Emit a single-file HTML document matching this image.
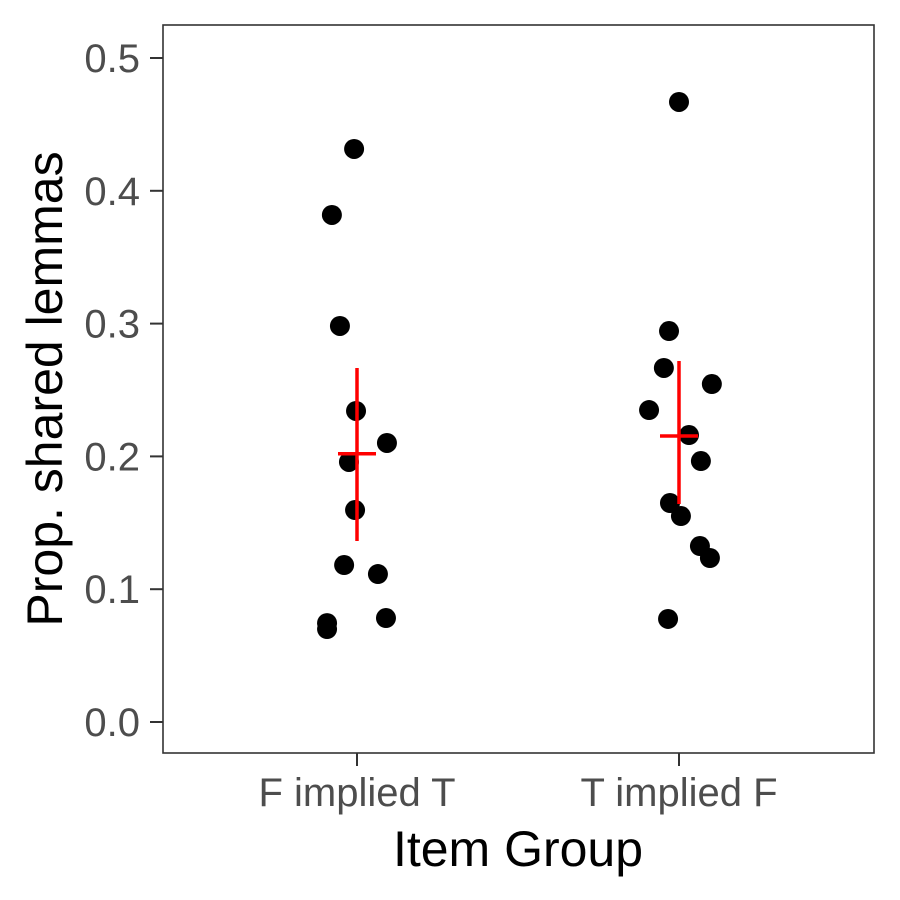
<!DOCTYPE html>
<html><head><meta charset="utf-8"><style>body{margin:0;background:#fff}svg{display:block}</style></head>
<body>
<svg id="chart" width="900" height="900" xmlns="http://www.w3.org/2000/svg" font-family="Liberation Sans, sans-serif"></svg>
<script>
const categories = ["F implied T", "T implied F"];
const group1Values = [0.4315,0.3818,0.2982,0.2342,0.2101,0.1958,0.1596,0.1182,0.1114,0.0783,0.0745,0.0700];
const group1Jitter = [-0.009,-0.078,-0.053,-0.003,0.093,-0.025,-0.006,-0.040,0.065,0.090,-0.093,-0.093];
const group2Values = [0.4669,0.2944,0.2666,0.2545,0.2349,0.2161,0.1965,0.1649,0.1551,0.1325,0.1235,0.0776];
const group2Jitter = [0.0,-0.031,-0.047,0.102,-0.093,0.031,0.068,-0.028,0.006,0.065,0.096,-0.034];
const means = [0.202, 0.2154];
const ciLow = [0.1363, 0.1642];
const ciHigh = [0.2666, 0.2718];
const yTicks = [0.0,0.1,0.2,0.3,0.4,0.5];
const yTickLabels = ["0.0","0.1","0.2","0.3","0.4","0.5"];

const svg = document.getElementById('chart');
const NS = "http://www.w3.org/2000/svg";
const L=163,R=874,T=25,B=753;
const y = v => 722 - v*1328;
const x = c => 357 + c*322;
function mk(tag, attrs, parent){const e=document.createElementNS(NS,tag);for(const k in attrs)e.setAttribute(k,attrs[k]);(parent||svg).appendChild(e);return e;}

const panel = mk('rect',{x:L,y:T,width:R-L,height:B-T,fill:'#fff',stroke:'#333','stroke-width':1.6});



yTicks.forEach((t,i)=>{
  const ln = mk('line',{x1:L-13,x2:L,y1:y(t),y2:y(t),stroke:'#333','stroke-width':2});
  
  
  const tx = mk('text',{x:140,y:y(t)+14,'text-anchor':'end','font-size':40,fill:'#4d4d4d'});
  tx.textContent = yTickLabels[i];
  
  
});
categories.forEach((c,i)=>{
  const ln = mk('line',{x1:x(i),x2:x(i),y1:B,y2:B+13,stroke:'#333','stroke-width':2});
  
  
  const tx = mk('text',{x:x(i),y:806,'text-anchor':'middle','font-size':40,fill:'#4d4d4d'});
  tx.textContent = c;
  
  
});

const xt = mk('text',{x:518,y:866,'text-anchor':'middle','font-size':50,fill:'#000'});
xt.textContent = 'Item Group';


const yt = mk('text',{x:0,y:0,'text-anchor':'middle','font-size':50,fill:'#000',transform:'translate(62,389) rotate(-90)'});
yt.textContent = 'Prop. shared lemmas';



[[group1Values,group1Jitter],[group2Values,group2Jitter]].forEach(([vals,jit],g)=>{
  vals.forEach((v,i)=>{
    const c = mk('circle',{cx:x(g+jit[i]),cy:y(v),r:10,fill:'#000'});
    
    
  });
});
means.forEach((m,g)=>{
  const v = mk('line',{x1:x(g),x2:x(g),y1:y(ciHigh[g]),y2:y(ciLow[g]),stroke:'#f00','stroke-width':3.5});
  
  
  const h = mk('line',{x1:x(g)-19,x2:x(g)+19,y1:y(m),y2:y(m),stroke:'#f00','stroke-width':3.5});
  
  
});
</script>
</body></html>
